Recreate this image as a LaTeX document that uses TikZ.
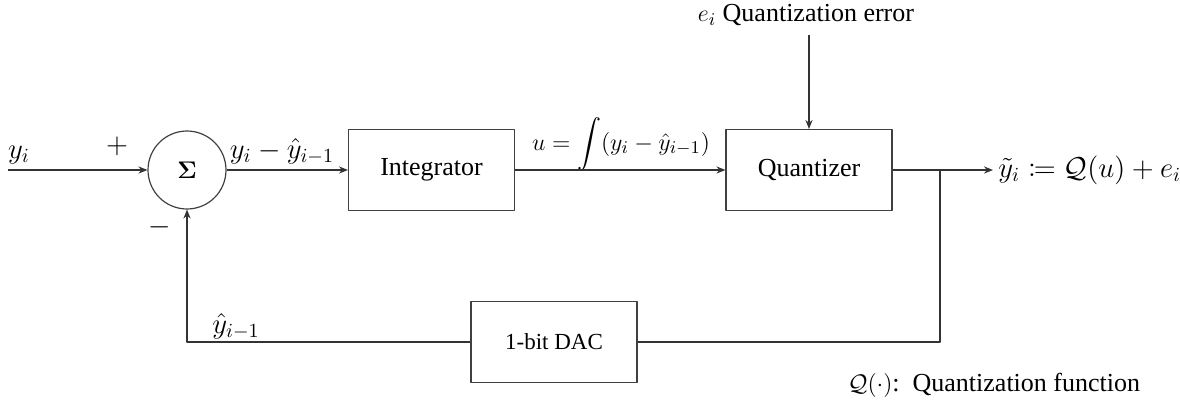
\documentclass[tikz,border=0pt]{standalone}
\usepackage{mathtools}
\usepackage[no-math]{fontspec}
\newfontfamily\serifrm{Liberation Serif}
\usetikzlibrary{arrows.meta}

\begin{document}
\begin{tikzpicture}[x=0.5pt, y=-0.5pt, >={Stealth[length=4.5pt,width=3.6pt]}, line join=round,
		every node/.style={font=\serifrm\fontsize{13}{15}\selectfont},
		mathlbl/.style={font=\fontsize{14.5}{17}\selectfont},
		block/.style={draw=black!75, line width=0.6pt, minimum width=83pt, minimum height=40.5pt, inner sep=0pt},
		sumnode/.style={circle, draw=black!75, line width=0.6pt, minimum size=39pt, inner sep=0pt},
		wire/.style={line width=0.6pt, draw=black!80}]
			\useasboundingbox (0,0) rectangle (1180,403);
			% blocks
			\node[sumnode] (sum) at (187,170) {$\mathbf{\Sigma}$};
			\node[block] (integ) at (431.5,170) {Integrator};
			\node[block] (quant) at (809,170) {Quantizer};
			\node[block, font=\serifrm\fontsize{11.5}{14}\selectfont] (dac) at (554,342) {1-bit DAC};
			% free ends
			\coordinate (yin) at (8,170);
			\coordinate (errtop) at (809,35);
			\coordinate (yout) at (993,170);
			\coordinate (branch) at (940,170);
			% labels
			\node[mathlbl] (yinlabel) at (19,155) {$y_i$};
			\node[mathlbl] (plus) at (117,146) {$+$};
			\node[mathlbl] (minus) at (160,227) {$-$};
			\node[mathlbl] (difflabel) at (282,151) {$y_i-\hat{y}_{i-1}$};
			\node[font=\fontsize{12.8}{15}\selectfont] (ulabel) at (621,144) {$u=\displaystyle\int(y_i-\hat{y}_{i-1})$};
			\node (errlabel) at (806,15) {$e_i$ Quantization error};
			\node[font=\fontsize{13.8}{16}\selectfont, anchor=west, inner sep=0pt] (outlabel) at (998,170) {$\tilde{y}_i\coloneqq\mathcal{Q}(u)+e_i$};
			\node[mathlbl] (fblabel) at (236,326) {$\hat{y}_{i-1}$};
			\node (qlabel) at (994,385) {$\mathcal{Q}(\cdot)$:\ \ Quantization function};
			% connections
			\draw[wire,->] (yin) -- (sum.west);
			\draw[wire,->] (sum.east) -- (integ.west);
			\draw[wire,->] (integ.east) -- (quant.west);
			\draw[wire,->] (errtop) -- (quant.north);
			\draw[wire,->] (quant.east) -- (yout);
			\draw[wire] (branch) |- (dac.east);
			\draw[wire,->] (dac.west) -| (sum.south);
		\end{tikzpicture}
\end{document}
